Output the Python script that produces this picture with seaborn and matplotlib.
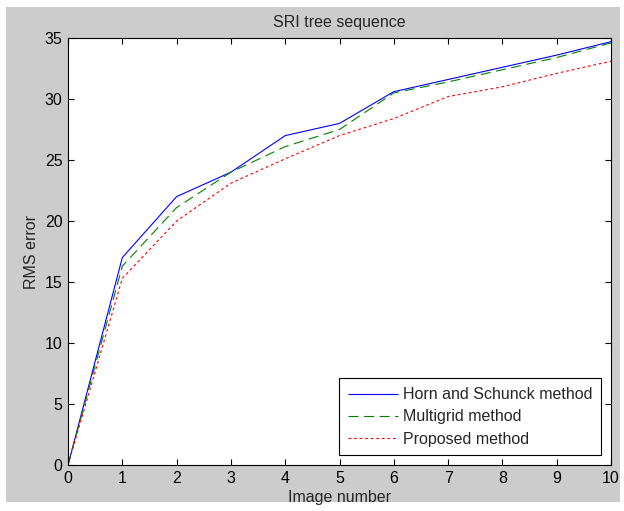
import pandas as pd
import matplotlib
matplotlib.use('Agg')
import matplotlib.pyplot as plt
from matplotlib.patches import Rectangle
import seaborn as sns

# values
image_number = [0, 1, 2, 3, 4, 5, 6, 7, 8, 9, 10]
horn_schunck = [0, 17.0, 22.0, 24.0, 27.0, 28.0, 30.6, 31.6, 32.6, 33.6, 34.7]
multigrid = [0, 16.3, 21.1, 24.0, 26.1, 27.5, 30.5, 31.4, 32.4, 33.4, 34.6]
proposed = [0, 15.3, 20.0, 23.1, 25.1, 27.0, 28.4, 30.2, 31.0, 32.1, 33.1]

sns.set_style('ticks')
plt.rcParams['font.family'] = ['Liberation Sans', 'DejaVu Sans']

fig = plt.figure(figsize=(6.24, 5.11), dpi=100, facecolor='white')
# gray matlab-like figure area with a thin white margin
fig.patches.append(Rectangle((6 / 624, 9 / 511), 614 / 624, 495 / 511,
                             transform=fig.transFigure, facecolor='#cccccc',
                             edgecolor='none', zorder=-10))
ax = fig.add_axes([68 / 624, 46 / 511, 543 / 624, 427 / 511])
ax.set_facecolor('white')

series = [
    ('Horn and Schunck method', horn_schunck, 'blue', (0, ())),
    ('Multigrid method', multigrid, 'green', (0, (9, 5))),
    ('Proposed method', proposed, 'red', (0, (2.5, 2.5))),
]
for name, vals, col, ls in series:
    df = pd.DataFrame({'x': image_number, 'y': vals})
    sns.lineplot(data=df, x='x', y='y', ax=ax, color=col, linewidth=0.8,
                 label=name, linestyle=ls)

ax.set_xlim(0, 10)
ax.set_ylim(0, 35)
ax.set_xticks(range(0, 11))
ax.set_yticks(range(0, 36, 5))
ax.tick_params(direction='in', top=True, right=True, length=4, width=0.8,
               labelsize=11.5, colors='black', pad=4)
for s in ax.spines.values():
    s.set_color('black')
    s.set_linewidth(0.8)

ax.set_title('SRI tree sequence', fontsize=11.5, pad=8)
ax.set_xlabel('Image number', fontsize=11.5, labelpad=3)
ax.set_ylabel('RMS error', fontsize=11.5, labelpad=4)

leg = ax.legend(loc='lower right', fontsize=11.5, frameon=True, fancybox=False,
                framealpha=1, edgecolor='black', borderaxespad=0.6,
                handlelength=3.1, handletextpad=0.35, labelspacing=0.45,
                borderpad=0.55)
leg.get_frame().set_linewidth(0.8)

fig.savefig('out.png', dpi=100, facecolor=fig.get_facecolor())
